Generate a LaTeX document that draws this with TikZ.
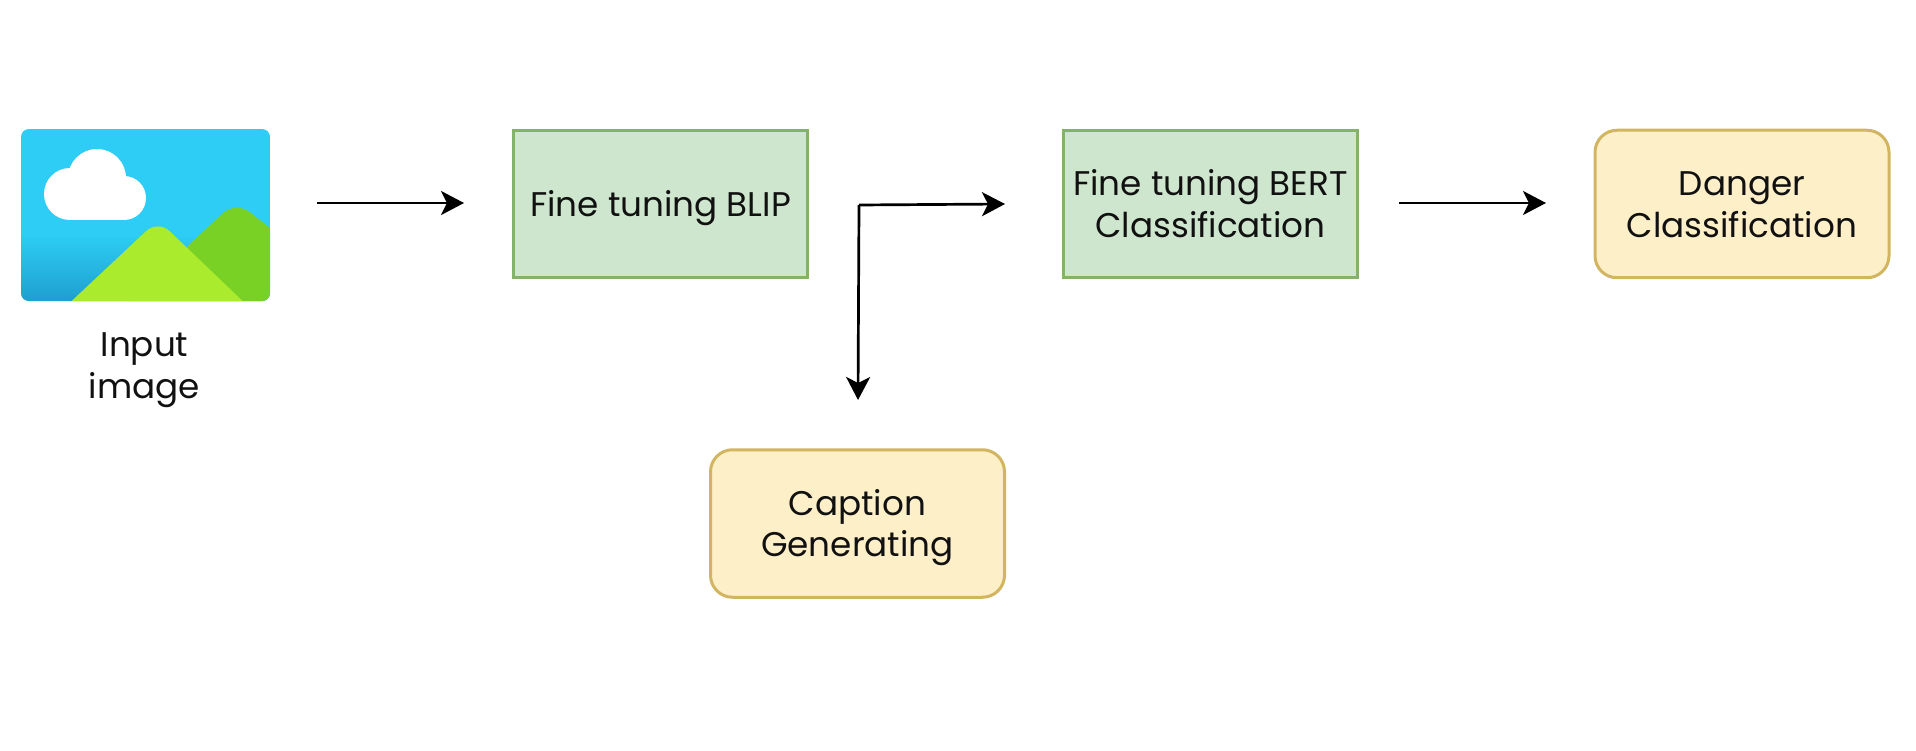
\documentclass[tikz,border=0pt]{standalone}
\usepackage{fontspec}
\setmainfont{Poppins}
\usetikzlibrary{arrows.meta}
\newlength{\du}
\setlength{\du}{1pt}
\newcommand{\firstline}{\rule{0pt}{36.5pt}}
\newcommand{\lastline}{\rule[-11.4pt]{0pt}{11.4pt}}
\definecolor{boxgreen}{HTML}{CFE6CE}
\definecolor{linegreen}{HTML}{82B366}
\definecolor{boxyellow}{HTML}{FDEFC8}
\definecolor{lineyellow}{HTML}{D2B560}
\definecolor{skyblue}{HTML}{2DCDF5}
\definecolor{skydark}{HTML}{1F9FCE}
\definecolor{hillfront}{HTML}{ABEB2E}
\definecolor{hillback}{HTML}{7AD126}
\definecolor{inkcolor}{HTML}{111111}
\tikzset{
  labeltext/.style={text=inkcolor,align=center,font=\fontsize{34.2}{41.5}\selectfont},
  modelbox/.style={labeltext,draw=linegreen,fill=boxgreen,line width=3\du,minimum width=294\du,minimum height=147.5\du,inner sep=0pt},
  resultbox/.style={labeltext,draw=lineyellow,fill=boxyellow,line width=3\du,rounded corners=22\du,minimum width=294\du,minimum height=147.5\du,inner sep=0pt},
  flowarrow/.style={-{Stealth[length=23pt,width=24pt,inset=6pt]},line width=2.7\du,black}
}
\begin{document}
\begin{tikzpicture}
\pgftransformyscale{-1.000000}
\useasboundingbox (0\du,0\du) rectangle (1916\du,751\du);
% input picture
\begin{scope}
\clip[rounded corners=8\du] (21\du,129\du) rectangle (270\du,301\du);
\fill[skyblue] (21\du,129\du) rectangle (270\du,301\du);
\shade[top color=skyblue,bottom color=skydark] (21\du,235\du) rectangle (270\du,301\du);
\fill[white] (70\du,194\du) circle (26\du);
\fill[white] (97\du,178\du) circle (29\du);
\fill[white] (124\du,198\du) circle (22\du);
\fill[white] (70\du,190\du) rectangle (124\du,220\du);
\fill[hillback,rounded corners=18\du] (119\du,310\du)--(236\du,201\du)--(300\du,252\du)--(300\du,310\du)--cycle;
\fill[hillfront,rounded corners=16\du] (62\du,310\du)--(158\du,220\du)--(252\du,310\du)--cycle;
\end{scope}
% boxes
\node[labeltext] (inputlabel) at (144.5\du,365\du){\firstline Input\\image\lastline};
\node[modelbox] (blip) at (660.5\du,204\du){\firstline Fine tuning BLIP\lastline};
\node[modelbox] (bert) at (1210.5\du,204\du){\firstline Fine tuning BERT\\Classification\lastline};
\node[resultbox] (danger) at (1742\du,204\du){\firstline Danger\\Classification\lastline};
\node[resultbox] (caption) at (857.5\du,523.5\du){\firstline Caption\\Generating\lastline};
% free ends of the arrows
\coordinate (a1s) at (317\du,203\du);
\coordinate (a1e) at (464\du,203\du);
\coordinate (a2c) at (859\du,205\du);
\coordinate (a2e) at (1005\du,204\du);
\coordinate (a2d) at (858\du,400\du);
\coordinate (a3s) at (1399\du,203\du);
\coordinate (a3e) at (1546\du,203\du);
\draw[flowarrow] (a1s)--(a1e);
\draw[flowarrow] (a2c)--(a2e);
\draw[flowarrow] (a2c)--(a2d);
\draw[flowarrow] (a3s)--(a3e);
\end{tikzpicture}
\end{document}
